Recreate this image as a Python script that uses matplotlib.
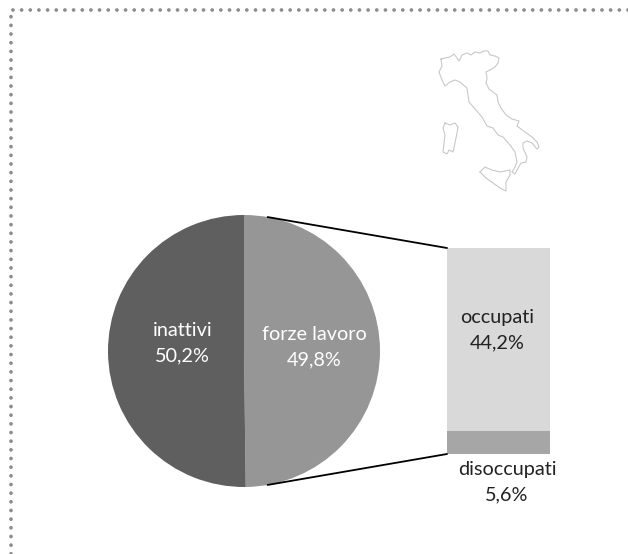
import numpy as np
import matplotlib
matplotlib.use("Agg")
import matplotlib.pyplot as plt
from matplotlib.patches import ConnectionPatch

plt.rcParams['font.family'] = ['Lato', 'DejaVu Sans']

W, H = 628, 554

# Pie and bar values
pie_labels = ['forze lavoro\n49,8%', 'inattivi\n50,2%']
pie_values = [49.8, 50.2]
pie_colors = ['#969696', '#5f5f5f']
bar_labels = ['disoccupati\n5,6%', 'occupati\n44,2%']
bar_values = [5.6, 44.2]
bar_colors = ['#a6a6a6', '#d9d9d9']

# Map outline, in image pixels
italy_x = [441, 445, 450, 454, 457, 459, 462, 467, 471, 475, 480, 484, 488, 490, 495, 499, 498,
           495, 490, 486, 487, 486, 489, 497, 498, 501, 506, 512, 519, 517, 525, 532, 537, 539,
           537, 532, 527, 523, 523, 527, 526, 521, 517, 515, 512, 515, 517, 515, 510, 503, 498,
           493, 487, 482, 475, 469, 467, 460, 455, 450, 445, 442, 439, 442, 441]
italy_y = [59, 58, 57, 54, 58, 61, 55, 53, 55, 52, 53, 51, 51, 55, 56, 58, 63, 67, 70, 72, 78, 83,
           89, 95, 102, 108, 115, 119, 121, 126, 132, 137, 142, 147, 149, 143, 141, 143, 148, 157,
           162, 163, 170, 174, 172, 167, 162, 152, 145, 137, 135, 128, 126, 117, 109, 102, 88, 82,
           80, 82, 86, 80, 72, 66, 59]
sardinia_x = [445, 450, 455, 458, 457, 455, 453, 449, 447, 443, 444, 445, 443, 445]
sardinia_y = [123, 125, 123, 127, 133, 143, 152, 150, 154, 152, 143, 135, 128, 123]
sicily_x = [480, 485, 492, 500, 510, 510, 506, 506, 500, 493, 486, 480]
sicily_y = [172, 167, 170, 172, 170, 175, 182, 191, 188, 183, 178, 172]

# Dotted frame, in image pixels
frame_x = [W, 11, 11]
frame_y = [10, 10, H]

fig = plt.figure(figsize=(W / 100, H / 100), dpi=100)

# Background axes in image pixels for the frame and the map
bg = fig.add_axes([0, 0, 1, 1])
bg.set_xlim(0, W)
bg.set_ylim(H, 0)
bg.axis('off')
bg.plot(frame_x, frame_y, color='#8c8c8c', lw=2.7, linestyle=(0, (0.01, 2.3)),
        dash_capstyle='round', clip_on=False)
for xs, ys in [(italy_x, italy_y), (sardinia_x, sardinia_y), (sicily_x, sicily_y)]:
    bg.plot(xs, ys, color='#c8c8c8', lw=0.8)

# Pie
ax1 = fig.add_axes([108 / W, (H - 487) / H, 272 / W, 272 / H])
ax1.pie(pie_values, colors=pie_colors, startangle=90, counterclock=False, radius=1)
ax1.set_xlim(-1, 1)
ax1.set_ylim(-1, 1)
ax1.text(0.515, 0.03, pie_labels[0], color='white', fontsize=14.3, ha='center', va='center',
         linespacing=1.6)
ax1.text(-0.45, 0.055, pie_labels[1], color='white', fontsize=14.3, ha='center', va='center',
         linespacing=1.6)

# Stacked bar
ax2 = fig.add_axes([447 / W, (H - 454) / H, 103 / W, 206 / H])
ax2.bar(0, bar_values[0], width=1, color=bar_colors[0])
ax2.bar(0, bar_values[1], width=1, bottom=bar_values[0], color=bar_colors[1])
ax2.set_xlim(-0.5, 0.5)
ax2.set_ylim(0, sum(bar_values))
ax2.axis('off')
ax2.text(-0.015, 30, bar_labels[1], color='#222222', fontsize=14.3, ha='center', va='center',
         linespacing=1.6)
ax2.text(0.083, -6.8, bar_labels[0], color='#222222', fontsize=14.3, ha='center', va='center',
         linespacing=1.6, clip_on=False)

# Connectors from the pie to the bar
theta = np.deg2rad(80)
for py, by in [(np.sin(theta), sum(bar_values)), (-np.sin(theta), 0)]:
    con = ConnectionPatch(xyA=(np.cos(theta), py), coordsA=ax1.transData,
                          xyB=(-0.5, by), coordsB=ax2.transData,
                          color='black', lw=1.3)
    fig.add_artist(con)

fig.savefig('out.png', dpi=100)
